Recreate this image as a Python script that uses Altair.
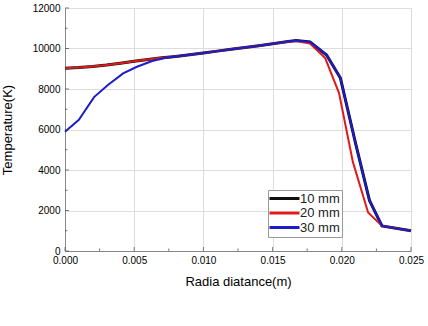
import altair as alt
import pandas as pd

# 20 mm series
x20 = [0.0, 0.001, 0.002, 0.003, 0.004, 0.005, 0.006, 0.007, 0.008, 0.009, 0.010,
       0.011, 0.012, 0.013, 0.014, 0.015, 0.016, 0.0167, 0.0177, 0.0188, 0.0198,
       0.0208, 0.0219, 0.0229, 0.025]
t20 = [9030, 9060, 9110, 9180, 9270, 9370, 9460, 9540, 9610, 9690, 9780,
       9870, 9960, 10050, 10140, 10230, 10320, 10370, 10250, 9530, 7800,
       4400, 1900, 1240, 1000]

# 30 mm series
x30 = [0.0, 0.001, 0.0021, 0.0031, 0.0042, 0.0052, 0.0063, 0.0073, 0.008, 0.009,
       0.010, 0.011, 0.012, 0.013, 0.014, 0.015, 0.016, 0.0167, 0.0177, 0.0189,
       0.0199, 0.021, 0.022, 0.0229, 0.025]
t30 = [5890, 6480, 7600, 8200, 8770, 9100, 9380, 9540, 9610, 9690,
       9780, 9870, 9960, 10050, 10140, 10230, 10330, 10390, 10320, 9680,
       8540, 5300, 2500, 1240, 1000]

# 10 mm series (mostly hidden beneath the others)
x10 = [0.0, 0.001, 0.002, 0.003, 0.004, 0.005, 0.006, 0.007, 0.008, 0.009, 0.010,
       0.011, 0.012, 0.013, 0.014, 0.015, 0.016, 0.0167, 0.0177, 0.0189, 0.0199,
       0.021, 0.022, 0.0229, 0.025]
t10 = [9030, 9060, 9110, 9180, 9270, 9370, 9460, 9540, 9610, 9690, 9780,
       9870, 9960, 10050, 10140, 10230, 10330, 10390, 10320, 9680, 8540,
       5300, 2500, 1240, 1000]

series_names = ["10 mm", "20 mm", "30 mm"]
series_colors = ["#111111", "#e01a1a", "#1c1ccc"]

x_major = [0.0, 0.005, 0.010, 0.015, 0.020, 0.025]
x_minor = [0.0025, 0.0075, 0.0125, 0.0175, 0.0225]
y_major = [0, 2000, 4000, 6000, 8000, 10000, 12000]
y_minor = [1000, 3000, 5000, 7000, 9000, 11000]

rows = []
for name, xs, ts in [("10 mm", x10, t10), ("20 mm", x20, t20), ("30 mm", x30, t30)]:
    for i, (a, b) in enumerate(zip(xs, ts)):
        rows.append({"r": a, "T": b, "series": name, "i": i})
df = pd.DataFrame(rows)

W, H = 346, 243
FONT = "Liberation Sans"
xscale = alt.Scale(domain=[0, 0.025], nice=False, zero=False)
yscale = alt.Scale(domain=[0, 12000], nice=False)

lines = alt.Chart(df).mark_line(strokeWidth=2).encode(
    x=alt.X("r:Q", scale=xscale,
            axis=alt.Axis(title="Radia diatance(m)", values=x_major, format=".3f",
                          tickSize=0, labelPadding=4, titlePadding=10, labelFlush=False,
                          titleFontWeight="normal", titleFont=FONT, titleFontSize=13)),
    y=alt.Y("T:Q", scale=yscale,
            axis=alt.Axis(title="Temperature(K)", values=y_major, format="d",
                          tickSize=0, labelPadding=5, titlePadding=18, labelFlush=False,
                          titleFontWeight="normal", titleFont=FONT, titleFontSize=13)),
    color=alt.Color("series:N", scale=alt.Scale(domain=series_names, range=series_colors),
                    legend=alt.Legend(title=None, orient="none", legendX=203, legendY=182,
                                      symbolType="M-3,0H3", symbolSize=100,
                                      symbolStrokeWidth=3, labelFontSize=13,
                                      labelFont=FONT, labelColor="#222",
                                      rowPadding=0.5, padding=2, strokeColor="#999",
                                      fillColor="white", labelOffset=9, symbolOffset=8)),
    order=alt.Order("i:Q"),
    detail="series:N",
)

l10 = lines.transform_filter(alt.datum.series == "10 mm").mark_line(strokeWidth=3)
l20 = lines.transform_filter(alt.datum.series == "20 mm")
l30 = lines.transform_filter(alt.datum.series == "30 mm")

xmaj = alt.Chart(pd.DataFrame({"v": x_major})).mark_tick(size=4, thickness=1, color="#444").encode(
    x=alt.X("v:Q", scale=xscale), y=alt.value(H - 2))
xmin = alt.Chart(pd.DataFrame({"v": x_minor})).mark_tick(size=2.5, thickness=1, color="#444").encode(
    x=alt.X("v:Q", scale=xscale), y=alt.value(H - 1.25))
ymaj = alt.Chart(pd.DataFrame({"v": y_major})).mark_tick(size=4, thickness=1, color="#444").encode(
    y=alt.Y("v:Q", scale=yscale), x=alt.value(2))
ymin = alt.Chart(pd.DataFrame({"v": y_minor})).mark_tick(size=2.5, thickness=1, color="#444").encode(
    y=alt.Y("v:Q", scale=yscale), x=alt.value(1.25))

chart = alt.layer(l10, l20, l30, xmaj, xmin, ymaj, ymin).properties(
    width=W, height=H,
    autosize=alt.AutoSizeParams(type="none"),
    padding={"left": 65, "top": 8, "right": 17, "bottom": 75},
).configure_view(stroke="#888", strokeWidth=1.2).configure_axis(
    labelFont=FONT, titleFont=FONT,
    labelFontSize=11, titleFontSize=13, titleFontWeight="normal",
    labelColor="#222", titleColor="#222", domainColor="#444", domainWidth=1.2,
    grid=False,
).configure(background="white")

chart.save("out.html", embed_options={"renderer": "svg", "actions": False})
